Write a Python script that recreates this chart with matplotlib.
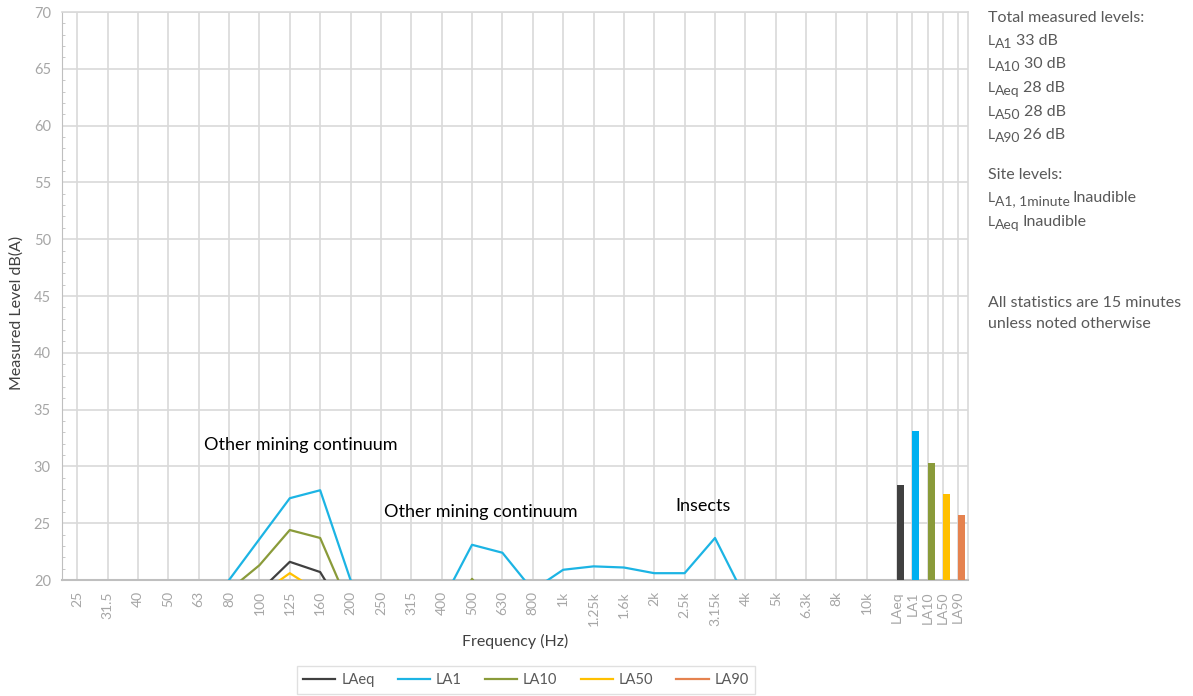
import matplotlib
matplotlib.use("Agg")
import matplotlib.pyplot as plt
import numpy as np

plt.rcParams['font.family'] = ['Lato', 'DejaVu Sans']

bands = ["25", "31.5", "40", "50", "63", "80", "100", "125", "160", "200", "250", "315",
         "400", "500", "630", "800", "1k", "1.25k", "1.6k", "2k", "2.5k", "3.15k", "4k",
         "5k", "6.3k", "8k", "10k"]

LAeq = [9.0, 9.5, 10.0, 11.0, 13.0, 17.0, 19.0, 21.6, 20.7, 16.3, 14.0, 13.5, 14.5, 18.5,
        17.0, 15.0, 16.5, 17.0, 17.0, 16.5, 16.5, 18.0, 14.5, 12.5, 10.5, 8.5, 6.5]
LA1 = [12.0, 12.5, 13.0, 14.0, 16.0, 20.0, 23.6, 27.2, 27.9, 20.0, 17.5, 17.0, 18.0, 23.1,
       22.4, 19.1, 20.9, 21.2, 21.1, 20.6, 20.6, 23.7, 18.4, 16.5, 14.0, 11.5, 9.0]
LA10 = [10.0, 10.5, 11.0, 12.0, 14.0, 19.1, 21.3, 24.4, 23.7, 17.5, 15.0, 14.5, 15.5, 20.1,
        17.0, 16.0, 17.5, 18.0, 18.0, 17.5, 17.5, 19.0, 15.5, 13.5, 11.5, 9.5, 7.5]
LA50 = [8.0, 8.5, 9.0, 10.0, 12.0, 16.0, 18.7, 20.6, 18.9, 15.0, 13.0, 12.5, 13.5, 17.0,
        15.5, 14.0, 15.5, 16.0, 16.0, 15.5, 15.5, 17.0, 13.5, 11.5, 9.5, 7.5, 5.5]
LA90 = [6.5, 7.0, 7.5, 8.5, 10.5, 14.0, 16.5, 18.5, 17.0, 13.5, 11.5, 11.0, 12.0, 15.5,
        14.0, 12.5, 14.0, 14.5, 14.5, 14.0, 14.0, 15.0, 12.0, 10.0, 8.0, 6.0, 4.0]

stat_labels = ["LAeq", "LA1", "LA10", "LA50", "LA90"]
stat_values = [28.4, 33.1, 30.3, 27.6, 25.7]

series_names = ["LAeq", "LA1", "LA10", "LA50", "LA90"]
series_data = [LAeq, LA1, LA10, LA50, LA90]
colors = ["#404040", "#1CB4E4", "#8A9B3A", "#FFC000", "#E5824F"]
bar_colors = ["#404040", "#00B0F0", "#8A9B3A", "#FFC000", "#E5824F"]

W, H = 1193, 696
fig = plt.figure(figsize=(W / 100, H / 100), dpi=100)
ax = fig.add_axes([62 / W, 1 - 580 / H, (968 - 62) / W, (580 - 12) / H])

xb = np.arange(len(bands))
xs = len(bands) + 0.5 * np.arange(len(stat_labels))

for name, data, c in zip(series_names, series_data, colors):
    ax.plot(xb, data, color=c, lw=1.6, label=name, zorder=3)

ax.bar(xs, stat_values, width=0.23, align='edge', color=bar_colors, zorder=3)

ax.set_xlim(-0.5, 29.33)
ax.set_ylim(20, 70)
ax.set_xticks(list(xb) + list(xs))
ax.set_xticklabels(bands + stat_labels, rotation=90, color="#A6A6A6", fontsize=10)
ax.set_yticks(np.arange(20, 71, 5))
ax.set_yticks(np.arange(20, 71, 1), minor=True)
ax.tick_params(axis='y', which='major', labelsize=10.5, labelcolor="#A6A6A6", length=0, pad=8)
ax.tick_params(axis='y', which='minor', direction='in', length=2.5, color="#BFBFBF")
ax.tick_params(axis='x', length=0, pad=8)
ax.grid(True, which='major', color="#D9D9D9", lw=1.2, zorder=0)
ax.set_axisbelow(True)
for s in ['top', 'right']:
    ax.spines[s].set_color("#D9D9D9")
    ax.spines[s].set_linewidth(1.2)
ax.spines['left'].set_color("#BFBFBF")
ax.spines['bottom'].set_color("#BFBFBF")
ax.spines['bottom'].set_linewidth(1.5)

ax.text(4.17, 31.9, "Other mining continuum", fontsize=13, color="black", va='center', ha='left')
ax.text(10.1, 26.0, "Other mining continuum", fontsize=13, color="black", va='center', ha='left')
ax.text(19.7, 26.5, "Insects", fontsize=13, color="black", va='center', ha='left')

fig.text(17 / W, 1 - 313 / H, "Measured Level dB(A)", rotation=90, fontsize=11.5,
         color="#404040", ha='center', va='center')
fig.text(515 / W, 1 - 641 / H, "Frequency (Hz)", fontsize=11.5, color="#404040",
         ha='center', va='center')

renderer = fig.canvas.get_renderer()
tc = "#595959"
x0 = 988


def put(xpx, ypx, s, size, va='baseline'):
    t = fig.text(xpx / W, 1 - ypx / H, s, fontsize=size, color=tc, ha='left', va=va)
    bb = t.get_window_extent(renderer=renderer)
    return xpx + bb.width


plain_lines = [(18, "Total measured levels:"), (175, "Site levels:"),
               (303, "All statistics are 15 minutes"), (324, "unless noted otherwise")]
for ypx, s in plain_lines:
    fig.text(x0 / W, 1 - ypx / H, s, fontsize=11.5, color=tc, ha='left', va='center')

sub_lines = [
    (45, "A1", "33 dB"),
    (68, "A10", "30 dB"),
    (92, "Aeq", "28 dB"),
    (116, "A50", "28 dB"),
    (139, "A90", "26 dB"),
    (202, "A1, 1minute", "Inaudible"),
    (226, "Aeq", "Inaudible"),
]
for base, sub, rest in sub_lines:
    x = put(x0, base, "L", 10)
    x = put(x, base + 3, sub, 10)
    put(x + 3, base, rest, 11.5)

leg = fig.legend(handles=ax.get_lines(), labels=series_names, loc='center', ncol=5,
                 bbox_to_anchor=(526 / W, 1 - 680 / H), frameon=True, fontsize=10.5,
                 handlelength=2.2, columnspacing=1.6, handletextpad=0.4,
                 borderpad=0.45, fancybox=False)
leg.get_frame().set_edgecolor("#D9D9D9")
for t in leg.get_texts():
    t.set_color("#595959")

fig.savefig("out.png", dpi=100)
